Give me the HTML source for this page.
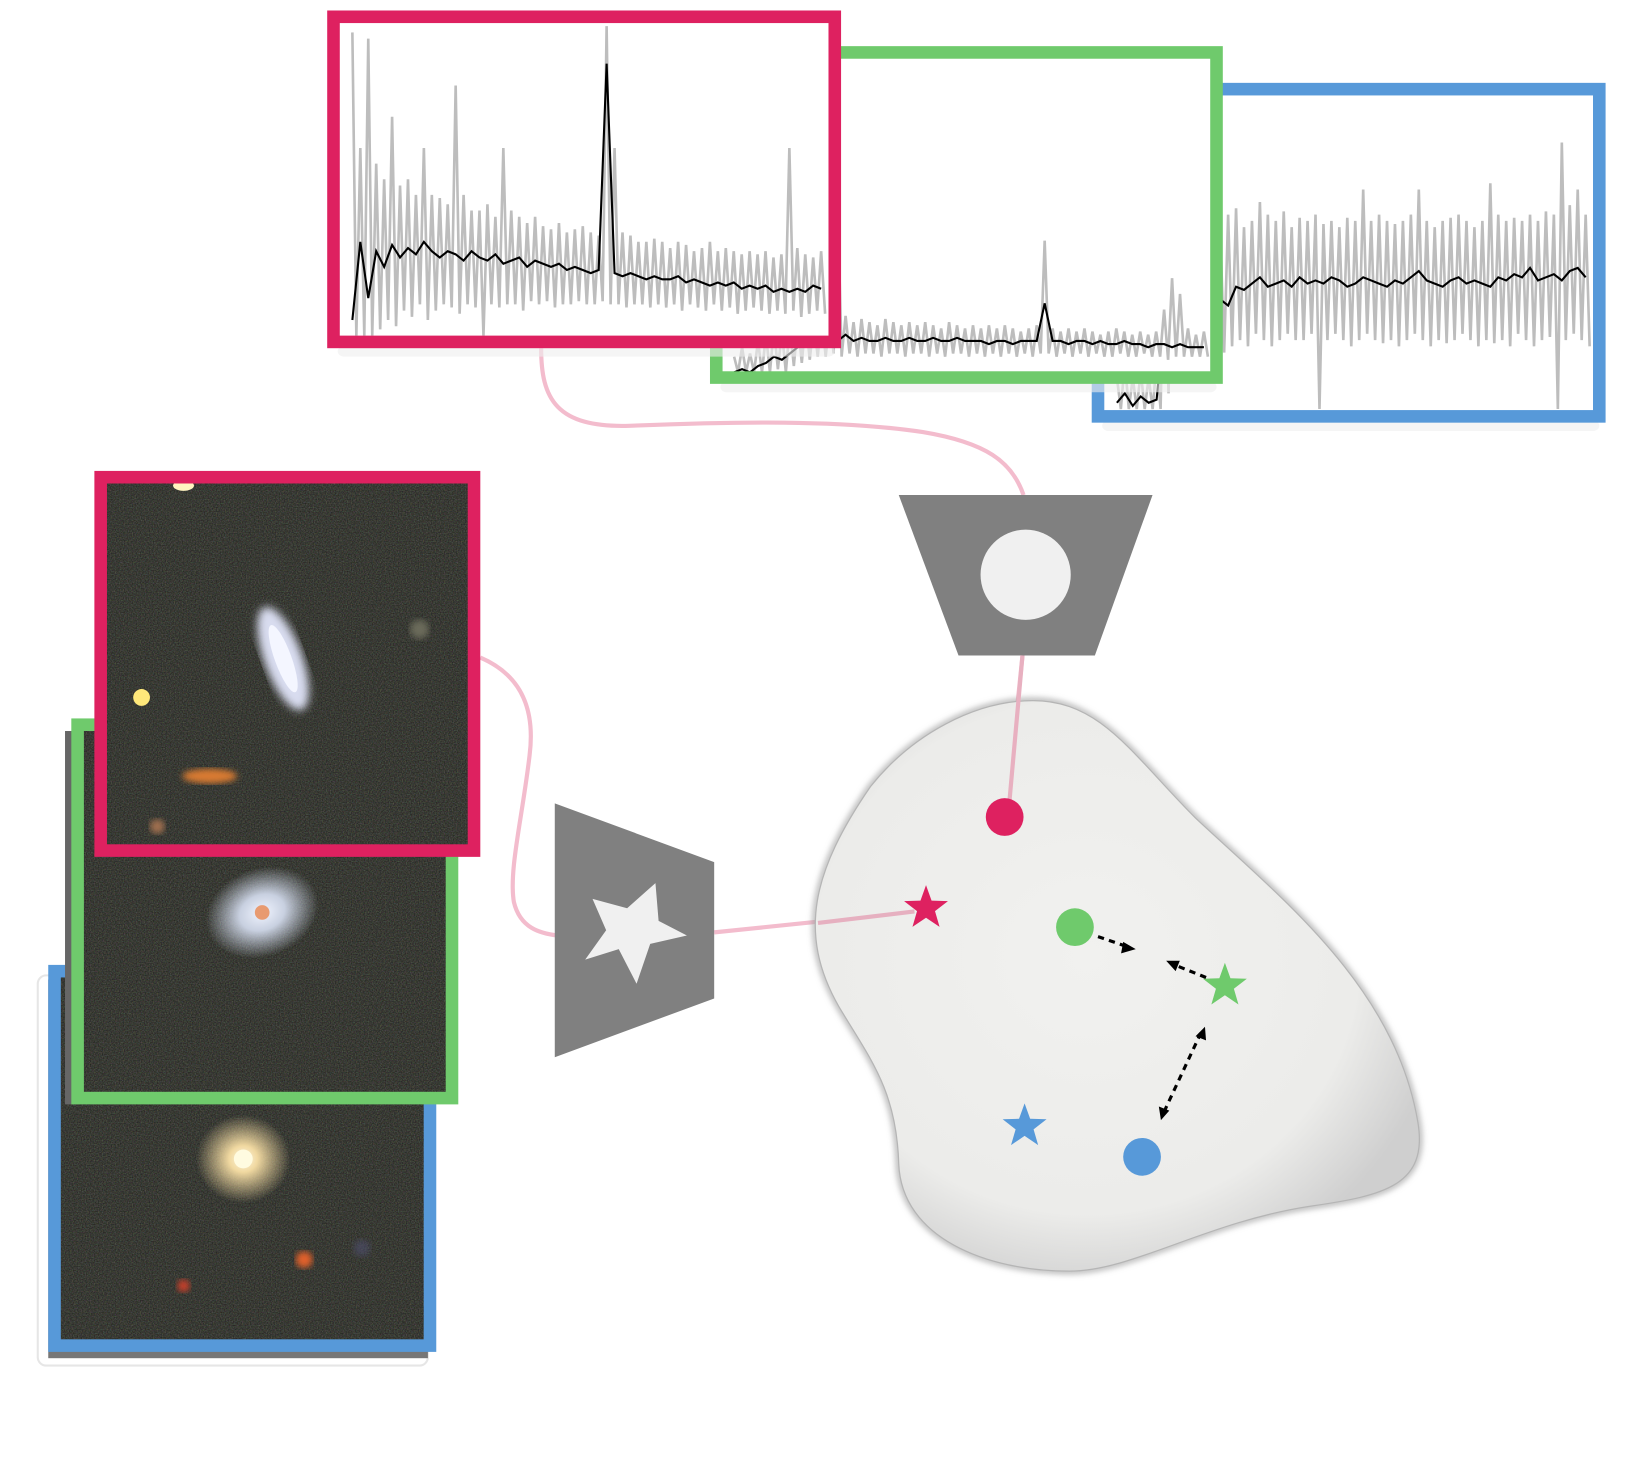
<!DOCTYPE html>
<html><head><meta charset="utf-8"><style>
html,body{margin:0;padding:0;background:#fff}
svg{display:block}
</style></head><body>
<svg id="fig" width="1636" height="1483" viewBox="0 0 1560 1414" preserveAspectRatio="none" xmlns="http://www.w3.org/2000/svg">
<defs>
<radialGradient id="blobg" cx="0.45" cy="0.45" r="0.6"><stop offset="0" stop-color="#f1f1ef"/><stop offset="0.75" stop-color="#ececea"/><stop offset="1" stop-color="#cfcfcf"/></radialGradient>
<filter id="noise" x="0" y="0" width="1" height="1"><feTurbulence type="fractalNoise" baseFrequency="0.8" numOctaves="2" seed="3"/><feColorMatrix values="0.55 0 0 0 0  0 0.6 0 0 0  0 0 0.5 0 0  0 0 0 0.5 0"/></filter>
<filter id="blur4"><feGaussianBlur stdDeviation="4"/></filter>
<filter id="blur8"><feGaussianBlur stdDeviation="8"/></filter>
<filter id="shadow"><feGaussianBlur stdDeviation="3"/></filter>
<radialGradient id="glow" cx="0.5" cy="0.5" r="0.5"><stop offset="0" stop-color="#fff8e0"/><stop offset="0.3" stop-color="#f0d8a0"/><stop offset="1" stop-color="#f0d8a0" stop-opacity="0"/></radialGradient>
<radialGradient id="glowB" cx="0.5" cy="0.5" r="0.5"><stop offset="0" stop-color="#f0f4ff"/><stop offset="0.4" stop-color="#c8d0e0"/><stop offset="1" stop-color="#c8d0e0" stop-opacity="0"/></radialGradient>
</defs>

<g fill="none" stroke="#f3bccd" stroke-width="4">
<path d="M516,332 C516,380 530,408 600,406 C700,402 800,400 880,412 C940,422 965,440 976,472"/>
<path d="M975,625 L960,770"/>
<path d="M458,627 C500,645 510,680 505,720 C498,780 485,830 490,860 C496,885 515,890 532,892"/>
<path d="M681,889 L875,869"/>
</g>

<g id="spectra"></g>

<g>
 <rect x="36" y="930" width="372" height="372" rx="8" fill="#fff" stroke="#e6e6e6" stroke-width="2"/>
 <rect x="46" y="934" width="362" height="361" fill="#555" opacity="0.8"/>
 <g>
  <rect x="52" y="926" width="358" height="357" fill="#1c1c18"/>
  <rect x="52" y="926" width="358" height="357" filter="url(#noise)"/>
  <ellipse cx="232" cy="1105" rx="45" ry="42" fill="url(#glow)"/>
  <circle cx="232" cy="1105" r="9" fill="#fffbe0"/>
  <circle cx="290" cy="1201" r="8" fill="#e0602a" filter="url(#shadow)"/>
  <circle cx="175" cy="1226" r="6" fill="#c8402a" filter="url(#shadow)"/>
  <circle cx="345" cy="1190" r="8" fill="#505070" opacity="0.6" filter="url(#shadow)"/>
  <rect x="52" y="926" width="358" height="357" fill="none" stroke="#5799d9" stroke-width="12"/>
 </g>
 <rect x="62" y="697" width="12" height="356" fill="#666"/>
 <g>
  <rect x="74" y="691" width="357" height="356" fill="#1c1c18"/>
  <rect x="74" y="691" width="357" height="356" filter="url(#noise)"/>
  <ellipse cx="250" cy="870" rx="55" ry="42" fill="url(#glowB)" transform="rotate(-20 250 870)"/>
  <circle cx="250" cy="870" r="7" fill="#e89a70"/>
  <rect x="74" y="691" width="357" height="356" fill="none" stroke="#6fca6c" stroke-width="12"/>
 </g>
 <g>
  <rect x="96" y="455" width="356" height="356" fill="#1c1c18"/>
  <rect x="96" y="455" width="356" height="356" filter="url(#noise)"/>
  <ellipse cx="270" cy="628" rx="18" ry="52" fill="#d8dcef" filter="url(#blur4)" transform="rotate(-20 270 628)"/>
  <ellipse cx="270" cy="628" rx="8" ry="34" fill="#f4f6ff" transform="rotate(-20 270 628)"/>
  <circle cx="135" cy="665" r="8" fill="#ffe87a"/>
  <ellipse cx="200" cy="740" rx="26" ry="7" fill="#d87a30" filter="url(#shadow)"/>
  <circle cx="150" cy="788" r="7" fill="#a07050" filter="url(#shadow)"/>
  <ellipse cx="175" cy="463" rx="10" ry="5" fill="#fff4c0"/>
  <circle cx="400" cy="600" r="9" fill="#6a6a5a" filter="url(#shadow)"/>
  <rect x="96" y="455" width="356" height="356" fill="none" stroke="#de2160" stroke-width="12"/>
 </g>
</g>

<g>
 <polygon points="857,472 1099,472 1044,625 914,625" fill="#808080"/>
 <circle cx="978" cy="548" r="43" fill="#f0f0f0"/>
</g>
<g>
 <polygon points="529,766 681,822 681,952 529,1008" fill="#808080"/>
 <polygon points="625,842 628,878 655,892 620,900 607,938 590,905 558,915 578,887 565,857 598,866" fill="#f0f0f0"/>
</g>

<g>
 <path d="M985,668 C1050,668 1080,720 1140,780 C1220,855 1330,940 1352,1070 C1362,1130 1320,1140 1250,1150 C1150,1165 1080,1212 1020,1212 C940,1212 860,1180 857,1110 C855,1040 830,1010 800,960 C760,890 775,830 830,750 C870,700 930,668 985,668 Z" fill="none" stroke="#999" stroke-width="4" filter="url(#shadow)"/>
 <path d="M985,668 C1050,668 1080,720 1140,780 C1220,855 1330,940 1352,1070 C1362,1130 1320,1140 1250,1150 C1150,1165 1080,1212 1020,1212 C940,1212 860,1180 857,1110 C855,1040 830,1010 800,960 C760,890 775,830 830,750 C870,700 930,668 985,668 Z" fill="url(#blobg)" stroke="#b5b5b5" stroke-width="1.2"/>
 <path d="M975,625 L962,770" stroke="#e8b0c0" stroke-width="4" fill="none"/>
 <path d="M780,880 L872,869" stroke="#e6b0c0" stroke-width="4" fill="none"/>
 <circle cx="958" cy="779" r="18" fill="#de2160"/>
 <circle cx="1025" cy="884" r="18" fill="#6fca6c"/>
 <circle cx="1089" cy="1103" r="18" fill="#5799d9"/>
 <g id="stars"></g>
 <g stroke="#000" stroke-width="3" stroke-dasharray="6,5" fill="none">
  <line x1="1047" y1="893" x2="1076" y2="903"/>
  <line x1="1150" y1="932" x2="1120" y2="920"/>
  <line x1="1110" y1="1060" x2="1145" y2="985"/>
 </g>
 <g fill="#000">
  <polygon points="1083,905 1071,898 1069,909"/>
  <polygon points="1112,916 1125,916 1121,926"/>
  <polygon points="1107,1068 1105,1055 1115,1059"/>
  <polygon points="1149,979 1150,992 1140,988"/>
 </g>
</g>
</svg>
<script>
const redMid=[0.05,0.3,0.12,0.27,0.22,0.29,0.25,0.28,0.26,0.3,0.27,0.25,0.27,0.26,0.24,0.27,0.25,0.24,0.26,0.23,0.24,0.25,0.22,0.24,0.23,0.22,0.23,0.21,0.22,0.21,0.2,0.21,0.87,0.2,0.19,0.2,0.19,0.18,0.19,0.18,0.18,0.19,0.17,0.18,0.17,0.16,0.17,0.16,0.17,0.15,0.16,0.15,0.16,0.14,0.15,0.14,0.15,0.14,0.16,0.15];
const redHi=[0.97,0.6,0.95,0.55,0.5,0.7,0.48,0.5,0.45,0.6,0.45,0.44,0.42,0.8,0.45,0.4,0.4,0.42,0.38,0.6,0.4,0.38,0.36,0.38,0.35,0.34,0.36,0.33,0.34,0.35,0.33,0.32,0.99,0.6,0.33,0.32,0.3,0.3,0.31,0.3,0.28,0.3,0.29,0.27,0.28,0.3,0.27,0.28,0.27,0.26,0.27,0.26,0.27,0.25,0.26,0.6,0.28,0.26,0.25,0.27];
const redLo=[0,0,0,0.02,0.05,0.03,0.08,0.06,0.1,0.05,0.08,0.1,0.09,0.07,0.1,0.09,0,0.1,0.09,0.1,0.1,0.08,0.11,0.1,0.11,0.09,0.1,0.1,0.11,0.1,0.1,0.11,0.1,0.1,0.09,0.1,0.1,0.09,0.1,0.09,0.1,0.08,0.1,0.09,0.08,0.1,0.08,0.09,0.07,0.08,0.09,0.08,0.07,0.08,0.07,0.08,0.06,0.07,0.08,0.07];
const greenMid=[0.0,0.01,0.0,0.02,0.03,0.05,0.04,0.06,0.08,0.09,0.1,0.1,0.11,0.1,0.12,0.1,0.11,0.1,0.1,0.11,0.1,0.1,0.11,0.1,0.1,0.11,0.1,0.1,0.11,0.1,0.1,0.1,0.09,0.1,0.1,0.09,0.1,0.1,0.1,0.22,0.1,0.1,0.09,0.1,0.1,0.09,0.1,0.09,0.09,0.1,0.09,0.09,0.08,0.09,0.09,0.08,0.09,0.08,0.08,0.08];
const greenHi=[0.05,0.08,0.06,0.1,0.12,0.14,0.13,0.15,0.16,0.17,0.16,0.18,0.17,0.55,0.18,0.16,0.17,0.16,0.15,0.17,0.16,0.15,0.16,0.15,0.16,0.15,0.14,0.16,0.15,0.14,0.15,0.14,0.15,0.14,0.15,0.14,0.13,0.14,0.15,0.42,0.14,0.13,0.14,0.13,0.14,0.13,0.12,0.13,0.14,0.13,0.12,0.13,0.12,0.13,0.2,0.3,0.25,0.14,0.12,0.13];
const greenLo=[0,0,0,0,0,0.01,0,0.02,0.03,0.04,0.05,0.05,0.06,0.05,0.06,0.05,0.06,0.06,0.05,0.06,0.06,0.05,0.06,0.06,0.05,0.06,0.05,0.06,0.06,0.05,0.06,0.05,0.06,0.05,0.06,0.05,0.06,0.05,0.06,0.06,0.05,0.06,0.05,0.06,0.05,0.06,0.05,0.05,0.06,0.05,0.05,0.06,0.05,0.05,0.04,0.05,0.05,0.05,0.05,0.05];
const blueMid=[0.02,0.05,0.01,0.04,0.02,0.03,0.3,0.33,0.35,0.36,0.34,0.38,0.37,0.35,0.33,0.39,0.38,0.4,0.42,0.39,0.4,0.41,0.39,0.42,0.4,0.41,0.4,0.42,0.41,0.39,0.4,0.42,0.41,0.4,0.39,0.41,0.4,0.42,0.44,0.41,0.4,0.39,0.41,0.42,0.4,0.41,0.4,0.39,0.42,0.41,0.43,0.42,0.45,0.41,0.42,0.43,0.41,0.44,0.45,0.42];
const blueHi=[0.1,0.15,0.1,0.12,0.1,0.15,0.6,0.65,0.72,0.8,0.62,0.7,0.6,0.58,0.62,0.64,0.58,0.6,0.66,0.62,0.6,0.63,0.58,0.61,0.6,0.62,0.59,0.6,0.58,0.61,0.6,0.7,0.6,0.62,0.6,0.59,0.6,0.62,0.7,0.6,0.58,0.6,0.61,0.62,0.6,0.58,0.6,0.72,0.62,0.6,0.61,0.6,0.62,0.6,0.63,0.62,0.85,0.65,0.7,0.62];
const blueLo=[0,0,0,0,0,0,0.05,0.15,0.2,0.18,0.2,0.22,0.2,0.18,0.2,0.22,0.2,0.24,0.22,0.2,0.22,0.24,0.22,0.22,0.24,0.0,0.22,0.24,0.22,0.2,0.22,0.24,0.22,0.21,0.22,0.2,0.22,0.24,0.22,0.2,0.22,0.21,0.22,0.24,0.22,0.2,0.22,0.21,0.22,0.2,0.24,0.22,0.2,0.22,0.23,0.0,0.22,0.24,0.22,0.2];

const SVGNS='http://www.w3.org/2000/svg';
const root=document.getElementById('spectra');
function mk(tag,attrs,parent){const e=document.createElementNS(SVGNS,tag);for(const k in attrs)e.setAttribute(k,attrs[k]);parent.appendChild(e);return e;}
function panel(name,box,plot,color,mid,hi,lo){
  const g=mk('g',{},root);
  
  
  mk('rect',{x:box[0]+4,y:box[1]+box[3]+4,width:box[2]-4,height:10,rx:6,fill:'#eee',opacity:0.6},g);
  mk('rect',{x:box[0],y:box[1],width:box[2],height:box[3],fill:'#fff'},g);
  const n=mid.length;
  const xs=i=>plot.x0+(plot.x1-plot.x0)*i/(n-1);
  const ys=v=>plot.yb-(plot.yb-plot.yt)*v;
  let gp=[];
  for(let i=0;i<n;i++){gp.push(xs(i)+','+ys(hi[i]));gp.push((xs(i)+(plot.x1-plot.x0)/(2*(n-1)))+','+ys(lo[i]));}
  const gl=mk('polyline',{points:gp.join(' '),fill:'none',stroke:'#bdbdbd','stroke-width':2.5},g);
  
  
  let bp=[];
  for(let i=0;i<n;i++){bp.push(xs(i)+','+ys(mid[i]));}
  const bl=mk('polyline',{points:bp.join(' '),fill:'none',stroke:'#000','stroke-width':2},g);
  
  
  mk('rect',{x:box[0],y:box[1],width:box[2],height:box[3],fill:'none',stroke:color,'stroke-width':12},g);
}
panel('blue-spectrum',[1047,85,478,312],{x0:1065,x1:1512,yb:390,yt:91},'#5799d9',blueMid,blueHi,blueLo);
panel('green-spectrum',[683,50,477,310],{x0:700,x1:1148,yb:355,yt:56},'#6fca6c',greenMid,greenHi,greenLo);
panel('red-spectrum',[318,16,478,310],{x0:336,x1:783,yb:320,yt:22},'#de2160',redMid,redHi,redLo);

const starNames=['red-image-embedding','green-image-embedding','blue-image-embedding'];
const starX=[883,1168,977];
const starY=[866,940,1074];
const starC=['#de2160','#6fca6c','#5799d9'];
const sg=document.getElementById('stars');
for(let k=0;k<3;k++){
  let p=[];
  for(let i=0;i<10;i++){const r=i%2?9:22;const a=-Math.PI/2+i*Math.PI/5;p.push((starX[k]+r*Math.cos(a))+','+(starY[k]+r*Math.sin(a)));}
  const s=mk('polygon',{points:p.join(' '),fill:starC[k]},sg);
  
  
}
</script>
</body></html>
